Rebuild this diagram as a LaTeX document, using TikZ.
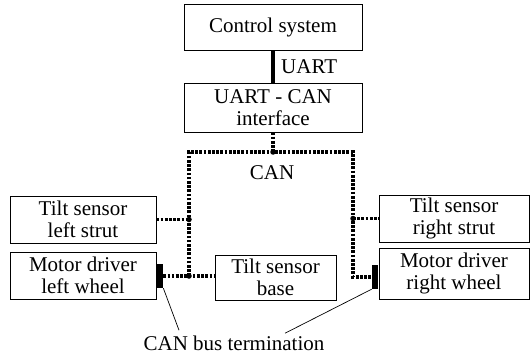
\documentclass[tikz,border=0pt]{standalone}
\usepackage{fontspec}
\setmainfont{Liberation Serif}
\begin{document}
\begin{tikzpicture}[x=1pt,y=-1pt,
  txt/.style={font=\fontsize{21}{22}\selectfont},
  box/.style={txt,draw,line width=0.9pt,inner sep=0pt,align=center},
  canbus/.style={line width=3.2pt,dash pattern=on 2.7pt off 1.5pt},
  uartline/.style={line width=4pt},
  junction/.style={circle,fill,inner sep=0pt,minimum size=5.5pt},
  termblock/.style={fill,inner sep=0pt,minimum width=6.5pt,minimum height=24pt},
  leader/.style={line width=0.7pt},
  lbl/.style={txt,inner sep=0pt}]
\useasboundingbox (0,0) rectangle (530,361);

% units
\node[box,minimum width=178pt,minimum height=46pt] (ctrl) at (273,27) {Control system};
\node[box,minimum width=178pt,minimum height=49pt] (iface) at (273,107.5) {UART - CAN\\interface};
\node[box,minimum width=146pt,minimum height=47pt] (lstrut) at (83,219.5) {Tilt sensor\\left strut};
\node[box,minimum width=146pt,minimum height=47pt] (lwheel) at (83,275.5) {Motor driver\\left wheel};
\node[box,minimum width=150pt,minimum height=47pt] (rstrut) at (454,218.5) {Tilt sensor\\right strut};
\node[box,minimum width=150pt,minimum height=51pt] (rwheel) at (454,273.5) {Motor driver\\right wheel};
\node[box,minimum width=121pt,minimum height=45pt] (base) at (275.5,277.5) {Tilt sensor\\base};

% bus terminations
\node[termblock,anchor=west] (lterm) at (lwheel.east |- 0,276) {};
\node[termblock,anchor=east] (rterm) at (rwheel.west |- 0,277) {};

% UART link
\draw[uartline] (ctrl.south) -- (iface.north);
\node[lbl,anchor=base west] (uartlbl) at (281,74) {UART};

% CAN bus
\coordinate (bustop) at (273,152);
\coordinate (busNW) at (189,152);
\coordinate (busNE) at (353,152);
\coordinate (jl1) at (189,219.5);
\coordinate (jl2) at (189,276);
\coordinate (jr1) at (353,218.5);
\coordinate (busSE) at (353,277);

\draw[canbus] (iface.south) -- (bustop);
\draw[canbus] (jl2) -- (busNW) -- (busNE) -- (busSE) -- (rterm.west);
\draw[canbus] (lstrut.east) -- (jl1);
\draw[canbus] (lterm.east) -- (jl2) -- (base.west |- jl2);
\draw[canbus] (jr1) -- (rstrut.west);

\foreach \j in {bustop,jl1,jl2,jr1}
  \node[junction] at (\j) {};

\node[lbl,anchor=base] (canlbl) at (272,179) {CAN};

% termination label
\node[lbl,anchor=base] (termlbl) at (234,350) {CAN bus termination};
\draw[leader] (lterm.south east) -- ([xshift=-55pt,yshift=5pt]termlbl.north);
\draw[leader] (rterm.south west) -- ([xshift=51pt,yshift=2pt]termlbl.north);
\end{tikzpicture}
\end{document}
